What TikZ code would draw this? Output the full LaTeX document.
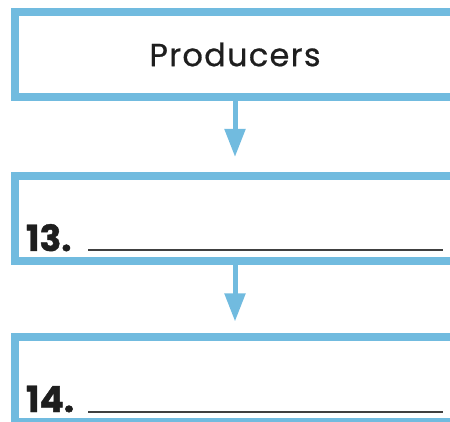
\documentclass[tikz,border=0pt]{standalone}
\usepackage{fontspec}
\setmainfont{Poppins}
\usetikzlibrary{arrows.meta}

\definecolor{chainblue}{HTML}{71BBDF}
\definecolor{inkgray}{HTML}{1E1E1E}

\begin{document}
\begin{tikzpicture}[x=1pt, y=-1pt, line width=8pt,
        box/.style    = {draw=chainblue, fill=white, rectangle, inner sep=0pt,
                         minimum width=440pt, minimum height=85pt},
        flow/.style   = {draw=chainblue, line width=5pt,
                         -{Triangle[width=20pt, length=28pt]}},
        number/.style = {anchor=base west, inner sep=0pt, text=inkgray,
                         font=\bfseries\fontsize{36}{36}\selectfont\addfontfeatures{FakeBold=1.2}},
        blank/.style  = {draw=inkgray!85, line width=1.5pt}]
            % page frame
            \clip (0, 0) rectangle (450, 422);
            
            % draw the three boxes
            \node[box, text=inkgray,
                  font=\fontsize{32}{32}\selectfont\addfontfeatures{LetterSpace=4,FakeBold=0.6}]
                  (prod) at (235, 54.5) {Producers};
            \node[box] (ans13) at (235, 218.5) {};
            \node[box] (ans14) at (235, 379) {};
            
            % draw arrows between boxes
            \draw[flow, shorten >=15pt] (prod.south) -- (ans13.north);
            \draw[flow, shorten >=11pt] (ans13.south) -- (ans14.north);
            
            % draw numbers and answer lines
            \node[number] (n13) at (22, 251) {13.};
            \draw[blank] (88, 250) -- (443, 250);
            \node[number] (n14) at (22, 412) {14.};
            \draw[blank] (88, 412) -- (443, 412);
        \end{tikzpicture}
\end{document}
